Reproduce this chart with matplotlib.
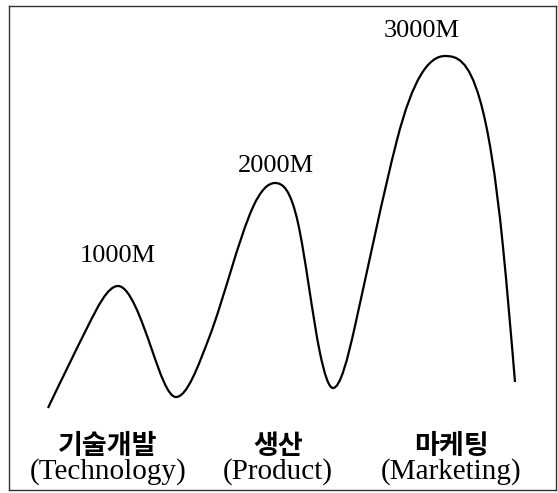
import numpy as np
import matplotlib.pyplot as plt
from matplotlib.path import Path
from matplotlib.patches import PathPatch

# curve (x right, y up, in frame pixels)
# with the slope of the line at each point
curve_x = [39, 78, 109, 143, 167, 200, 244, 266, 289, 311, 324, 346, 388,
           436, 471, 494, 506]
curve_y = [82, 162, 204, 140, 93, 152, 283, 307, 267, 137, 102, 164, 350,
           434, 390, 243, 108]
curve_slope = [2.1, 2.0, 0, -2.9, 0, 2.6, 2.2, 0, -4.5, -4.8, 0, 4.5, 3.9,
               0, -3.5, -10, -12]

peak_labels = ['1000M', '2000M', '3000M']
peak_label_x = [109, 267, 413]
peak_label_y = [228, 318, 453]

stage_kr = ['기술개발', '생산', '마케팅']
stage_en = ['(Technology)', '(Product)', '(Marketing)']
stage_x = [99, 269, 442]


def hermite_path(xs, ys, ms):
    # cubic hermite segments written as bezier curves
    verts = [(xs[0], ys[0])]
    codes = [Path.MOVETO]
    for i in range(len(xs) - 1):
        h = xs[i + 1] - xs[i]
        verts += [(xs[i] + h / 3, ys[i] + ms[i] * h / 3),
                  (xs[i + 1] - h / 3, ys[i + 1] - ms[i + 1] * h / 3),
                  (xs[i + 1], ys[i + 1])]
        codes += [Path.CURVE4] * 3
    return Path(verts, codes)


fig = plt.figure(figsize=(5.58, 4.93), dpi=100)
ax = fig.add_axes([9/558, 3/493, 547/558, 484/493])
ax.set_xlim(0, 547)
ax.set_ylim(0, 484)
ax.set_xticks([])
ax.set_yticks([])
for s in ax.spines.values():
    s.set_linewidth(1.0)
    s.set_color('#333333')

ax.add_patch(PathPatch(hermite_path(curve_x, curve_y, curve_slope),
                       fill=False, lw=1.6, ec='black', capstyle='butt'))

for lab, x, y in zip(peak_labels, peak_label_x, peak_label_y):
    ax.text(x, y, lab, ha='center', va='baseline', fontsize=19,
            family='Liberation Serif')

for kr, en, x in zip(stage_kr, stage_en, stage_x):
    ax.text(x, 44, kr, ha='center', va='center', fontsize=19.5,
            family='Noto Sans CJK KR', fontweight='bold')
    ax.text(x, 11, en, ha='center', va='baseline', fontsize=21,
            family='Liberation Serif')

fig.savefig('out.png', dpi=100)
